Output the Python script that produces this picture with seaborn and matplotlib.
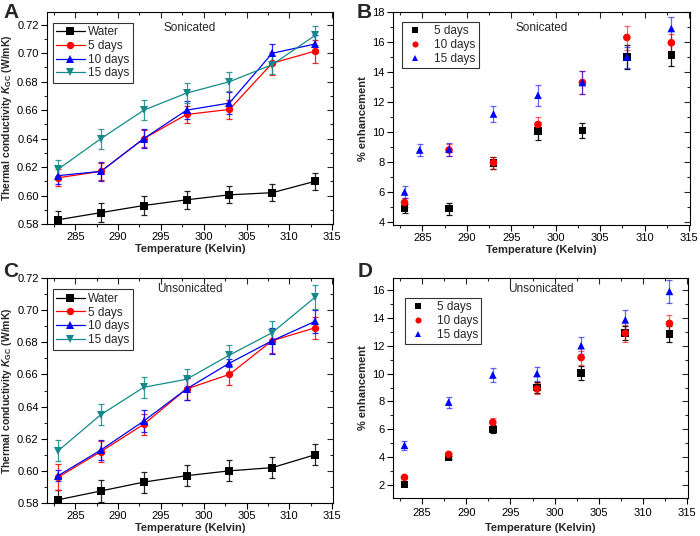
import numpy as np
import pandas as pd
import matplotlib
matplotlib.use("Agg")
import matplotlib.pyplot as plt
import seaborn as sns

# ---------------- data ----------------
temps = [283, 288, 293, 298, 303, 308, 313]

# Panel A (sonicated) thermal conductivity
a_water = [0.583, 0.588, 0.593, 0.597, 0.6005, 0.602, 0.610]
a_5d = [0.6125, 0.617, 0.640, 0.657, 0.6605, 0.693, 0.7015]
a_10d = [0.614, 0.617, 0.640, 0.660, 0.665, 0.700, 0.7065]
a_15d = [0.6185, 0.640, 0.660, 0.672, 0.680, 0.692, 0.7125]
a_water_err = [0.006, 0.0065, 0.0065, 0.0065, 0.006, 0.006, 0.006]
a_5d_err = [0.006, 0.006, 0.006, 0.006, 0.007, 0.008, 0.008]
a_10d_err = [0.006, 0.0065, 0.0065, 0.0065, 0.0075, 0.0065, 0.0065]
a_15d_err = [0.0065, 0.007, 0.007, 0.007, 0.0065, 0.0065, 0.007]

# Panel B (sonicated) % enhancement
b_x_5d = [283, 288, 293, 298, 303, 308, 313]
b_5d = [4.9, 4.9, 7.95, 10.05, 10.1, 15.0, 15.15]
b_5d_err = [0.3, 0.4, 0.4, 0.6, 0.5, 0.8, 0.75]
b_x_10d = [283, 288, 293, 298, 303, 308, 313]
b_10d = [5.3, 8.8, 7.95, 10.5, 13.3, 16.3, 15.95]
b_10d_err = [0.3, 0.4, 0.4, 0.5, 0.75, 0.8, 0.6]
b_x_15d = [283, 284.7, 288, 293, 298, 303, 308, 313]
b_15d = [6.0, 8.8, 8.85, 11.2, 12.45, 13.3, 15.0, 16.9]
b_15d_err = [0.4, 0.4, 0.45, 0.55, 0.7, 0.75, 0.7, 0.8]

# Panel C (unsonicated) thermal conductivity
c_water = [0.582, 0.5875, 0.593, 0.597, 0.600, 0.602, 0.610]
c_5d = [0.596, 0.612, 0.629, 0.651, 0.660, 0.681, 0.689]
c_10d = [0.597, 0.613, 0.631, 0.651, 0.667, 0.681, 0.693]
c_15d = [0.6125, 0.635, 0.652, 0.657, 0.672, 0.686, 0.708]
c_water_err = [0.006, 0.0068, 0.0065, 0.0065, 0.0065, 0.0065, 0.0065]
c_5d_err = [0.008, 0.0065, 0.0065, 0.007, 0.0065, 0.0075, 0.0068]
c_10d_err = [0.0035, 0.0065, 0.007, 0.007, 0.0025, 0.008, 0.007]
c_15d_err = [0.0065, 0.0065, 0.0065, 0.0065, 0.0065, 0.007, 0.0075]

# Panel D (unsonicated) % enhancement
d_5d = [2.05, 4.0, 6.0, 9.0, 10.05, 12.9, 12.85]
d_5d_err = [0.1, 0.1, 0.3, 0.4, 0.5, 0.5, 0.55]
d_10d = [2.55, 4.2, 6.5, 8.9, 11.15, 12.9, 13.6]
d_10d_err = [0.1, 0.1, 0.3, 0.4, 0.5, 0.6, 0.6]
d_15d = [4.85, 7.95, 9.9, 10.0, 12.0, 13.85, 15.9]
d_15d_err = [0.3, 0.4, 0.5, 0.5, 0.6, 0.7, 0.8]

labels_k = ["Water", "5 days", "10 days", "15 days"]
labels_e = ["5 days", "10 days", "15 days"]

# ---------------- style ----------------
sns.set_theme(style="white")
plt.rcParams["font.family"] = ["Liberation Sans", "DejaVu Sans"]
plt.rcParams["mathtext.fontset"] = "custom"
plt.rcParams["mathtext.rm"] = "Liberation Sans:bold"
plt.rcParams["mathtext.it"] = "Liberation Sans:italic:bold"
plt.rcParams["mathtext.bf"] = "Liberation Sans:bold"

BLACK, RED, BLUE, TEAL = "#000000", "#ff0000", "#0000ff", "#138a8a"
TICK_FS = 8
LABEL_FS = 7.5

W, H = 700, 536
fig = plt.figure(figsize=(7.0, 5.36), dpi=100)


def add_ax(left, top, right, bottom):
    return fig.add_axes([left / W, 1 - bottom / H, (right - left) / W, (bottom - top) / H])


def style_ax(ax, ylim, ymaj, ymin, yfmt, xpad=2, xlabelpad=1):
    ax.set_xlim(281.7, 315.1)
    ax.set_ylim(*ylim)
    ax.set_xticks([285, 290, 295, 300, 305, 310, 315])
    ax.set_xticks(np.arange(282.5, 315.1, 2.5), minor=True)
    ax.set_yticks(ymaj)
    ax.set_yticks(ymin, minor=True)
    ax.set_yticklabels([yfmt.format(v) for v in ymaj])
    for s in ax.spines.values():
        s.set_color("black")
        s.set_linewidth(0.8)
    ax.tick_params(which="major", direction="out", length=4, width=0.8,
                   labelsize=TICK_FS, colors="black", pad=2, bottom=True, left=True)
    ax.tick_params(axis="x", which="major", pad=xpad)
    ax.tick_params(which="minor", direction="out", length=2.5, width=0.8,
                   bottom=True, left=True)
    ax.set_xlabel("Temperature (Kelvin)", fontsize=LABEL_FS + 0.5, fontweight="bold",
                  labelpad=xlabelpad)
    # inward ticks on top and right
    top = ax.secondary_xaxis("top")
    top.set_xticks(ax.get_xticks())
    top.set_xticks(ax.get_xticks(minor=True), minor=True)
    top.tick_params(which="major", direction="in", length=4, width=0.8, labeltop=False)
    top.tick_params(which="minor", direction="in", length=2.5, width=0.8)
    top.set_xticklabels([])
    right = ax.secondary_yaxis("right")
    right.set_yticks(ymaj)
    right.set_yticks(ymin, minor=True)
    right.tick_params(which="major", direction="in", length=4, width=0.8, labelright=False)
    right.tick_params(which="minor", direction="in", length=2.5, width=0.8)
    right.set_yticklabels([])
    for sec in (top, right):
        for s in sec.spines.values():
            s.set_visible(False)


def k_panel(ax, series, errs, title):
    styles = [(BLACK, "s"), (RED, "o"), (BLUE, "^"), (TEAL, "v")]
    df = pd.DataFrame({"T": temps * 4,
                       "k": sum(series, []),
                       "group": sum([[lab] * len(temps) for lab in labels_k], [])})
    pal = {lab: st[0] for lab, st in zip(labels_k, styles)}
    mk = {lab: st[1] for lab, st in zip(labels_k, styles)}
    for lab, vals, err, (c, m) in zip(labels_k, series, errs, styles):
        ax.errorbar(temps, vals, yerr=err, fmt="none", ecolor=c, elinewidth=0.9,
                    capsize=2.5, capthick=0.9, alpha=0.85, zorder=2)
    sns.lineplot(data=df, x="T", y="k", hue="group", style="group", palette=pal,
                 markers=mk, dashes=False, markersize=5.3, markeredgewidth=0,
                 linewidth=0.9, ax=ax, zorder=3)
    ax.set_ylabel(r"Thermal conductivity $K_{\mathrm{GC}}$ (W/mK)", fontsize=LABEL_FS,
                  fontweight="bold", labelpad=2)
    leg = ax.legend(loc="upper left", bbox_to_anchor=(0.02, 0.95), fontsize=TICK_FS + 0.5,
                    frameon=True, fancybox=False, edgecolor="black", borderpad=0.3,
                    labelspacing=0.15, handlelength=2.4, handletextpad=0.3,
                    borderaxespad=0.0)
    leg.get_frame().set_linewidth(0.8)
    ax.text(0.5, 0.925, title, transform=ax.transAxes, ha="center", va="center",
            fontsize=TICK_FS + 0.5)


def e_panel(ax, xs, series, errs, title):
    styles = [(BLACK, "s"), (RED, "o"), (BLUE, "^")]
    rows = []
    for lab, x, vals in zip(labels_e, xs, series):
        for xi, vi in zip(x, vals):
            rows.append((xi, vi, lab))
    df = pd.DataFrame(rows, columns=["T", "e", "group"])
    for lab, x, vals, err, (c, m) in zip(labels_e, xs, series, errs, styles):
        ax.errorbar(x, vals, yerr=err, fmt="none", ecolor=c, elinewidth=0.9,
                    capsize=2.5, capthick=0.9, alpha=0.6 if c != BLACK else 0.9,
                    zorder=2)
    pal = {lab: st[0] for lab, st in zip(labels_e, styles)}
    mk = {lab: st[1] for lab, st in zip(labels_e, styles)}
    sns.scatterplot(data=df, x="T", y="e", hue="group", style="group", palette=pal,
                    markers=mk, s=30, linewidth=0, ax=ax, zorder=3)
    ax.set_ylabel("% enhancement", fontsize=LABEL_FS + 0.5, fontweight="bold", labelpad=3)
    leg = ax.legend(loc="upper left", bbox_to_anchor=(0.03, 0.955), fontsize=TICK_FS + 0.5,
                    frameon=True, fancybox=False, edgecolor="black", borderpad=0.3,
                    labelspacing=0.15, handlelength=1.6, handletextpad=0.8,
                    borderaxespad=0.0, markerscale=0.8)
    leg.get_frame().set_linewidth(0.8)
    ax.text(0.5, 0.925, title, transform=ax.transAxes, ha="center", va="center",
            fontsize=TICK_FS + 0.5)


# Panel A
axA = add_ax(47, 12, 333, 224)
style_ax(axA, (0.58, 0.729), np.arange(0.58, 0.7201, 0.02), np.arange(0.59, 0.7201, 0.02), "{:.2f}")
k_panel(axA, [a_water, a_5d, a_10d, a_15d], [a_water_err, a_5d_err, a_10d_err, a_15d_err], "Sonicated")

# Panel B
axB = add_ax(393, 12, 690, 225)
style_ax(axB, (3.8, 18.0), np.arange(4, 18.1, 2), np.arange(5, 18, 2), "{:.0f}")
e_panel(axB, [b_x_5d, b_x_10d, b_x_15d], [b_5d, b_10d, b_15d], [b_5d_err, b_10d_err, b_15d_err], "Sonicated")

# Panel C
axC = add_ax(47, 278, 333, 503)
style_ax(axC, (0.58, 0.72), np.arange(0.58, 0.7201, 0.02), np.arange(0.59, 0.7201, 0.02), "{:.2f}",
         xpad=2, xlabelpad=1)
k_panel(axC, [c_water, c_5d, c_10d, c_15d], [c_water_err, c_5d_err, c_10d_err, c_15d_err], "Unsonicated")
axC.texts[-1].set_position((0.5, 0.95))

# Panel D
axD = add_ax(393, 278, 688, 498)
style_ax(axD, (1.07, 16.86), np.arange(2, 16.1, 2), np.arange(3, 16.9, 2), "{:.0f}",
         xpad=3, xlabelpad=4)
e_panel(axD, [temps, temps, temps], [d_5d, d_10d, d_15d], [d_5d_err, d_10d_err, d_15d_err], "Unsonicated")
axD.texts[-1].set_position((0.5, 0.95))
axD.get_legend().set_bbox_to_anchor((0.04, 0.91))

# Panel letters
for x, y, t in [(3, 3, "A"), (357, 3, "B"), (3, 262, "C"), (358, 262, "D")]:
    fig.text(x / W, 1 - y / H, t, fontsize=15, fontweight="bold", ha="left", va="top")

fig.savefig("out.png", dpi=100)
